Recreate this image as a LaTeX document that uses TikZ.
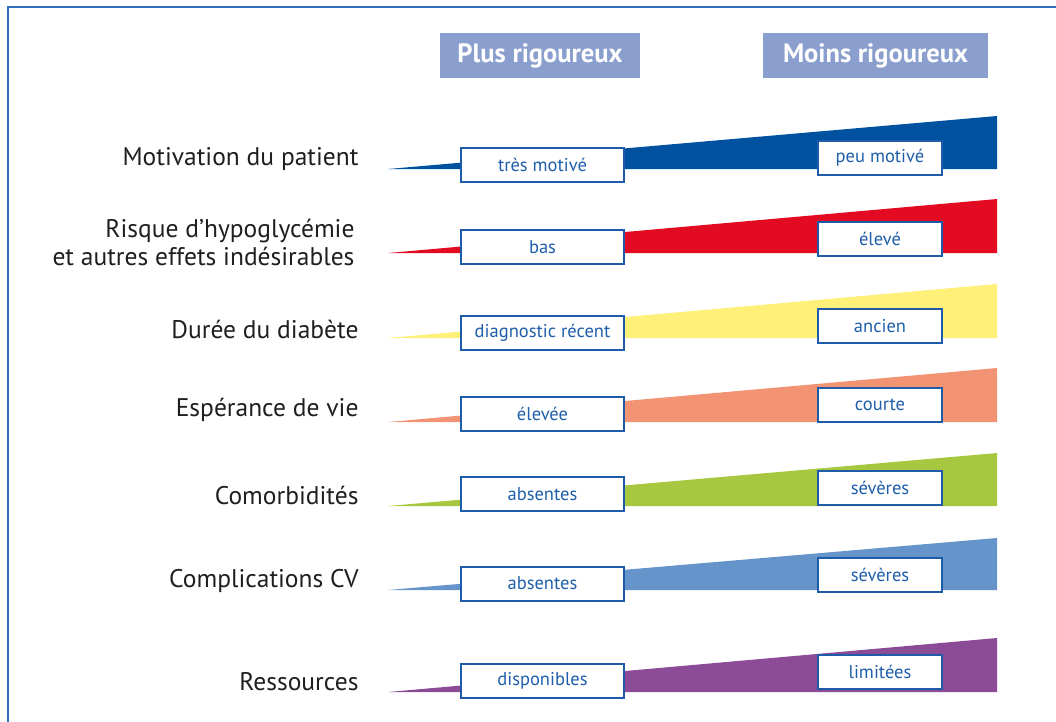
\documentclass[tikz,border=0pt]{standalone}
\usepackage{fontspec}
\setmainfont{PT Sans}
\begin{document}
\begin{tikzpicture}[x=1pt,y=-1pt,
  lbl/.style={anchor=east,text=black!88,font=\fontsize{25.5}{28}\selectfont,align=right},
  valbox/.style={draw=boxblue,line width=2pt,fill=white,text=txtblue,minimum height=34pt,inner sep=0pt,font=\fontsize{18.5}{21}\selectfont},
  leftbox/.style={valbox,minimum width=163pt},
  rightbox/.style={valbox,minimum width=124pt},
  hdr/.style={fill=hdrblue,text=white,minimum height=45pt,inner sep=0pt,font=\fontsize{26.5}{30}\selectfont\bfseries}]
\definecolor{boxblue}{HTML}{1E5CAA}
\definecolor{txtblue}{HTML}{1F5FAA}
\definecolor{hdrblue}{HTML}{8A9FCD}
\definecolor{frameblue}{HTML}{2C6EBF}
\definecolor{c1}{HTML}{0051A0}
\definecolor{c2}{HTML}{E20B22}
\definecolor{c3}{HTML}{FFF07A}
\definecolor{c4}{HTML}{F29474}
\definecolor{c5}{HTML}{A6C73F}
\definecolor{c6}{HTML}{6594CB}
\definecolor{c7}{HTML}{8B4B96}
\useasboundingbox (0,0) rectangle (1056,721);
\draw[frameblue,line width=1.6pt] (8,740) -- (8,7) -- (1070,7);
\node[hdr,minimum width=200pt] (h1) at (540,55.5) {Plus rigoureux};
\node[hdr,minimum width=225pt] (h2) at (875.5,55.5) {Moins rigoureux};
\foreach \i/\b/\t/\ly/\ry/\col/\lt/\rt in {
  1/169/116/164.5/157.5/c1/très motivé/peu motivé,
  2/253/199/247/238.5/c2/bas/élevé,
  3/338/284/332.5/326/c3/diagnostic récent/ancien,
  4/422/368/413.5/405/c4/élevée/courte,
  5/506/453/494/487.5/c5/absentes/sévères,
  6/590/538/583.5/574.5/c6/absentes/sévères,
  7/692/638/680.5/671.5/c7/disponibles/limitées}{
  \fill[\col] (388,\b) -- (997,\t) -- (997,\b) -- cycle;
  \node[leftbox] (l\i) at (542.5,\ly) {\lt};
  \node[rightbox] (r\i) at (880,\ry) {\rt};
}
\node[lbl] (t1) at (362,159) {Motivation du patient};
\node[lbl] (t2) at (358,242) {Risque d’hypoglycémie\\et autres effets indésirables};
\node[lbl] (t3) at (362,329) {Durée du diabète};
\node[lbl] (t4) at (362,410) {Espérance de vie};
\node[lbl] (t5) at (362,495) {Comorbidités};
\node[lbl] (t6) at (362,581) {Complications CV};
\node[lbl] (t7) at (362,682) {Ressources};
\end{tikzpicture}
\end{document}
